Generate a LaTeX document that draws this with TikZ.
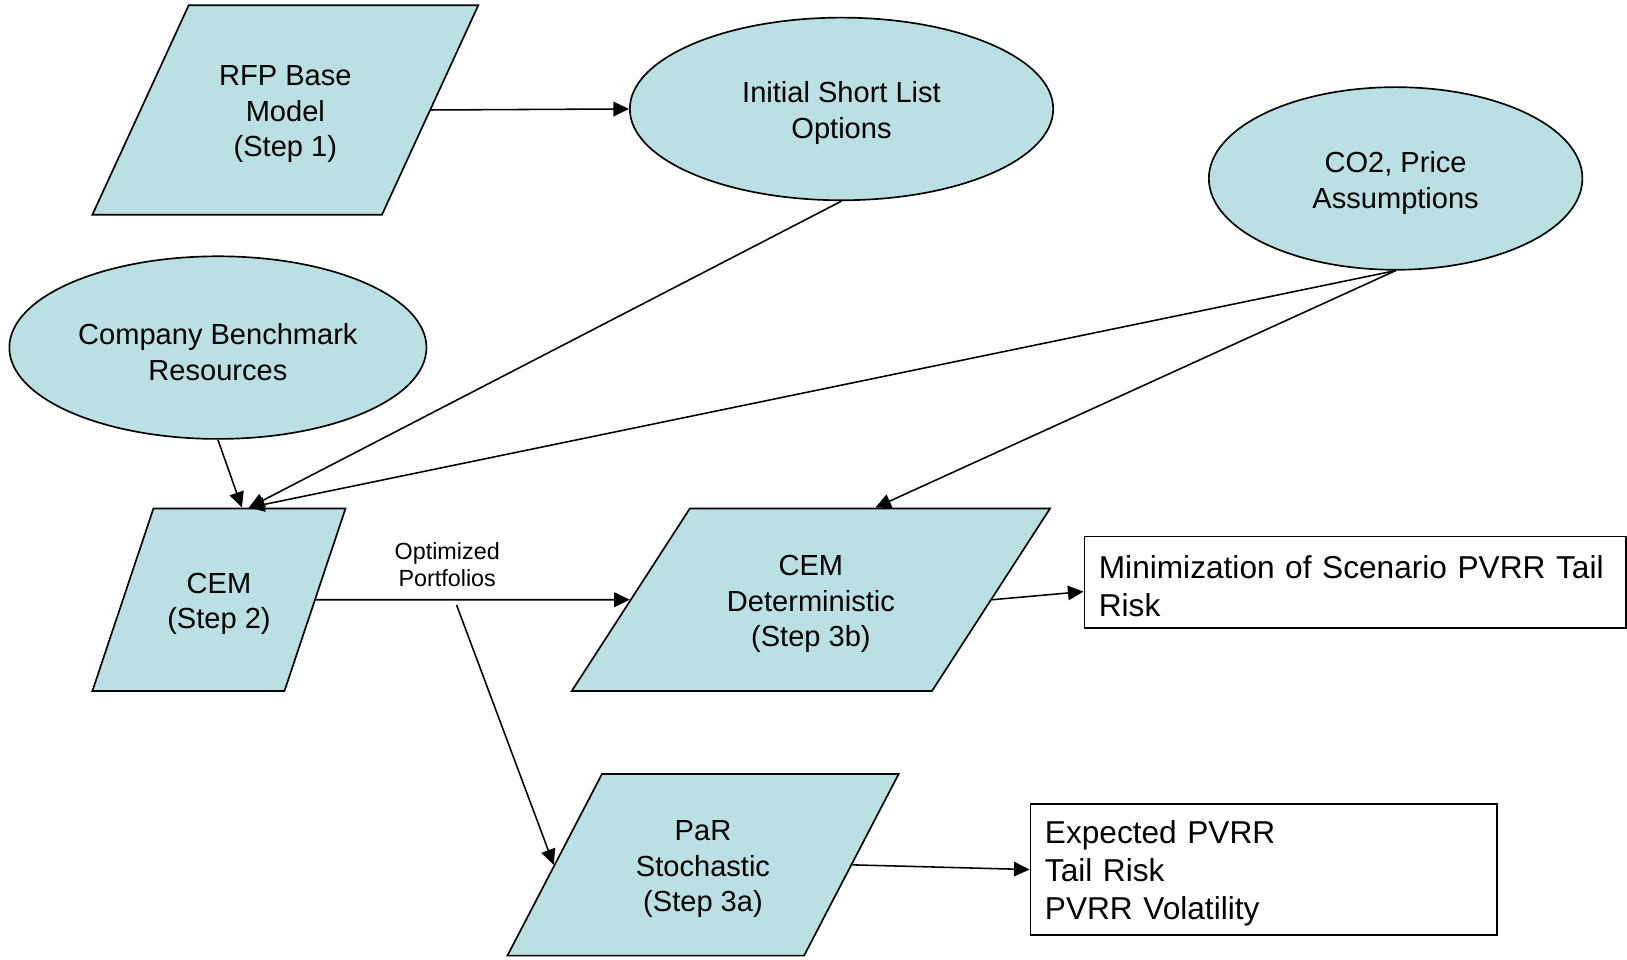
\documentclass[tikz,border=0pt]{standalone}
\usepackage{fontspec}
\setmainfont{Liberation Sans}
\usetikzlibrary{shapes.geometric,arrows.meta}

\definecolor{boxfill}{RGB}{187,224,227}

\begin{document}
\begin{tikzpicture}[x=1pt,y=-1pt,
  every node/.style={font=\fontsize{28}{34.5}\selectfont},
  flow/.style={draw=black, line width=1.6pt, fill=boxfill, inner sep=0pt},
  slantbox/.style={flow, trapezium, trapezium stretches body=true,
                   minimum height=#1, text height=#1, text depth=0pt},
  oval/.style={flow, ellipse},
  notebox/.style={rectangle, draw=black, line width=1.6pt, inner sep=0pt},
  steptext/.style={align=center, yshift=-4pt},
  notetext/.style={align=left, yshift=-4pt, font=\fontsize{30.5}{36.5}\selectfont},
  link/.style={-{Triangle[length=15pt,width=14pt]}, line width=1.5pt}]

  \useasboundingbox (0,0) rectangle (1568,925);

  % inputs
  \node[slantbox=202pt, trapezium left angle=65.3, trapezium right angle=114.7, minimum width=372pt,
        label={[steptext]center:RFP Base\\Model\\(Step 1)}] (rfp) at (275,106) {};
  \node[oval, minimum width=408pt, minimum height=176pt,
        label={[steptext]center:Initial Short List\\Options}] (ini) at (811,105) {};
  \node[oval, minimum width=360pt, minimum height=176pt,
        label={[steptext]center:CO2, Price\\Assumptions}] (co2) at (1345,172) {};
  \node[oval, minimum width=402pt, minimum height=176pt,
        label={[steptext]center:Company Benchmark\\Resources}] (bench) at (210,335) {};

  % model steps
  \node[slantbox=176pt, trapezium left angle=71.5, trapezium right angle=108.5, minimum width=244pt,
        label={[steptext]center:CEM\\(Step 2)}] (cem) at (211,578) {};
  \node[slantbox=176pt, trapezium left angle=57.1, trapezium right angle=122.9, minimum width=461pt,
        label={[steptext]center:CEM\\Deterministic\\(Step 3b)}] (det) at (781.5,578) {};
  \node[slantbox=175pt, trapezium left angle=62.5, trapezium right angle=117.5, minimum width=377pt,
        label={[steptext]center:PaR\\Stochastic\\(Step 3a)}] (par) at (677.5,833.5) {};

  % results
  \node[notebox, minimum width=522pt, minimum height=88pt,
        label={[notetext, text width=494pt]center:Minimization of Scenario PVRR Tail\\Risk}] (minrisk) at (1306,561) {};
  \node[notebox, minimum width=450pt, minimum height=126pt,
        label={[notetext, text width=422pt]center:Expected PVRR\\Tail Risk\\PVRR Volatility}] (expect) at (1218,838) {};

  \node[font=\fontsize{22.5}{26}\selectfont, align=center] (opt) at (431,544) {Optimized\\Portfolios};
  \coordinate (fork) at (440,583);

  % connectors
  \draw[link] (rfp.east) -- (ini.west);
  \draw[link] (ini.south) -- (cem.72);
  \draw[link] (bench.south) -- (cem.76);
  \draw[link] (co2.south) -- (cem.72);
  \draw[link] (co2.south) -- (det.55);
  \draw[link] (cem.east) -- (det.west);
  \draw[link] (fork) -- (par.west);
  \draw[link] (det.east) -- (minrisk.182);
  \draw[link] (par.east) -- (expect.west);

\end{tikzpicture}
\end{document}
